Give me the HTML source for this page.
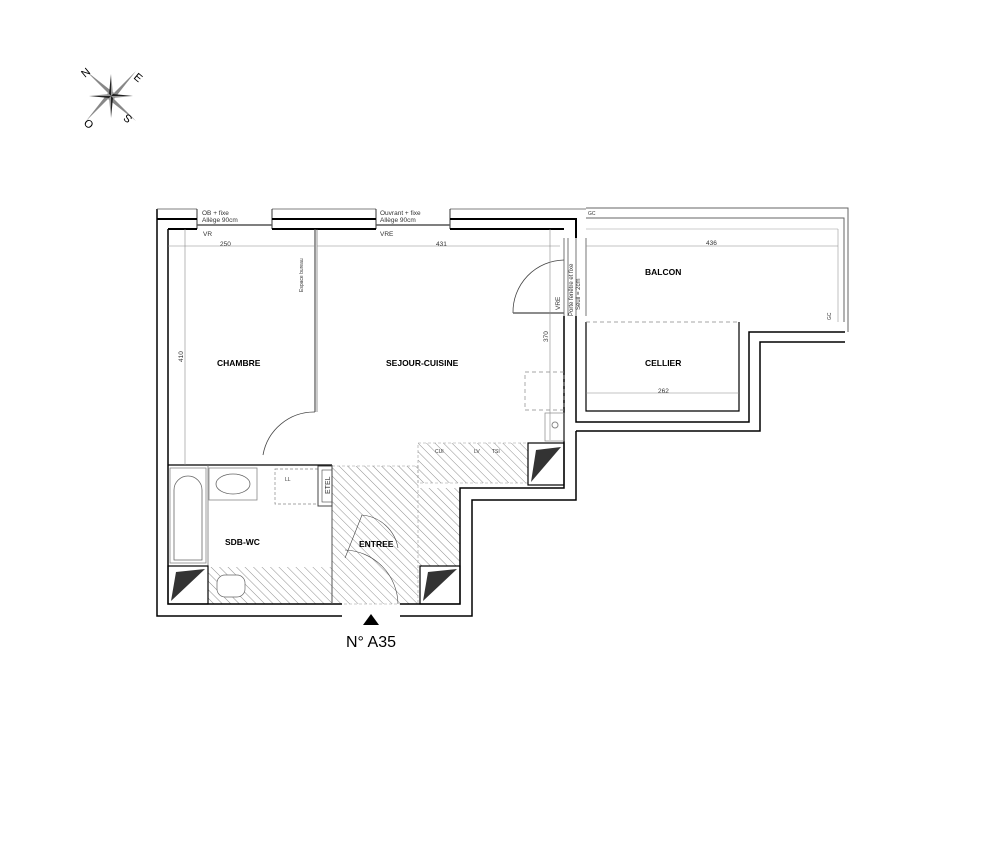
<!DOCTYPE html>
<html><head><meta charset="utf-8"><style>
html,body{margin:0;padding:0;background:#fff}
svg{display:block}
text{font-family:"Liberation Sans",Arial,sans-serif}
</style></head><body>
<svg width="1000" height="857" viewBox="0 0 1000 857" xmlns="http://www.w3.org/2000/svg">
<defs>
<pattern id="h" width="6" height="6" patternUnits="userSpaceOnUse" patternTransform="rotate(-45)">
<line x1="0" y1="0" x2="0" y2="6" stroke="#444" stroke-width="0.6"/>
</pattern>
</defs>
<rect width="1000" height="857" fill="#fff"/>
<!-- compass -->
<g transform="translate(111,96)">
<g id="pt">
<polygon points="0,0 -3,-3 -25,-25" fill="#111"/>
<polygon points="0,0 3,-3 -25,-25" fill="#888"/>
</g>
<use href="#pt" transform="rotate(90)"/>
<use href="#pt" transform="rotate(180)"/>
<use href="#pt" transform="rotate(270)"/>
<g id="ax">
<polygon points="0,0 -2,-2 0,-22" fill="#222"/>
<polygon points="0,0 2,-2 0,-22" fill="#999"/>
</g>
<use href="#ax" transform="rotate(90)"/>
<use href="#ax" transform="rotate(180)"/>
<use href="#ax" transform="rotate(270)"/>
<text x="-26" y="-18" font-size="11" font-family="Liberation Serif" transform="rotate(-40 -26 -18)">N</text>
<text x="22" y="-18" font-size="11" font-family="Liberation Serif" transform="rotate(40 22 -18)">E</text>
<text x="-28" y="28" font-size="11" font-family="Liberation Serif" transform="rotate(40 -28 28)">O</text>
<text x="22" y="22" font-size="11" font-family="Liberation Serif" transform="rotate(-140 22 22)">S</text>
</g>

<!-- hatched areas -->
<rect x="332" y="466" width="86" height="138" fill="url(#h)"/>
<rect x="418" y="443" width="110" height="40" fill="url(#h)"/>
<rect x="418" y="488" width="42" height="78" fill="url(#h)"/>
<rect x="208" y="567" width="124" height="37" fill="url(#h)"/>
<rect x="332" y="466" width="86" height="138" fill="none" stroke="#999" stroke-width="0.6" stroke-dasharray="3,2"/>
<rect x="418" y="443" width="110" height="40" fill="none" stroke="#999" stroke-width="0.6" stroke-dasharray="3,2"/>

<g fill="none" stroke="#000">
<path d="M157,209 V616 H342" stroke-width="1.5"/>
<path d="M168,229 V604 H342" stroke-width="1.5"/>
<path d="M157,219 H197 M272,219 H376 M450,219 H576 V238" stroke-width="2"/>
<path d="M168,229 H197 M272,229 H376 M450,229 H564" stroke-width="2"/>
<path d="M157,209 H197 M272,209 H376 M450,209 H586" stroke-width="0.8" stroke="#555"/>
<line x1="197" y1="209" x2="197" y2="229" stroke-width="0.8"/>
<line x1="272" y1="209" x2="272" y2="229" stroke-width="0.8"/>
<line x1="376" y1="209" x2="376" y2="229" stroke-width="0.8"/>
<line x1="450" y1="209" x2="450" y2="229" stroke-width="0.8"/>
<line x1="197" y1="225" x2="272" y2="225" stroke-width="1.5" stroke="#555"/>
<line x1="376" y1="225" x2="450" y2="225" stroke-width="1.5" stroke="#555"/>
<path d="M564,316 V488 H460 V604 H400" stroke-width="1.5"/>
<path d="M576,316 V422 H749 V332 H845" stroke-width="1.5"/>
<path d="M576,431 V500 H472 V616 H400" stroke-width="1.5"/>
<path d="M576,431 H760 V342 H845" stroke-width="1.5"/>
<path d="M586,322 V411 H739 V322" stroke-width="1.2"/>
<line x1="586" y1="322" x2="739" y2="322" stroke="#888" stroke-dasharray="4,3" stroke-width="0.8"/>
<path d="M586,218 H844 V322" stroke="#666" stroke-width="1"/>
<path d="M586,208 H848 V332" stroke="#666" stroke-width="1"/>
<line x1="586" y1="229" x2="838" y2="229" stroke="#999" stroke-width="0.6"/>
<line x1="838" y1="229" x2="838" y2="322" stroke="#999" stroke-width="0.6"/>
<path d="M564,238 V316 M568,238 V316 M576,238 V316 M586,238 V316" stroke="#555" stroke-width="0.8"/>
<line x1="168" y1="465" x2="332" y2="465" stroke-width="1.2"/>
<line x1="315" y1="229" x2="315" y2="412" stroke="#555" stroke-width="1.2"/>
<line x1="317" y1="229" x2="317" y2="412" stroke="#555" stroke-width="0.6"/>
<line x1="332" y1="465" x2="332" y2="604" stroke="#555" stroke-width="1"/>
<line x1="208" y1="465" x2="208" y2="604" stroke="#777" stroke-width="0.8"/>
<path d="M263,455 A52,52 0 0 1 315,412" stroke="#444" stroke-width="0.8"/>
<path d="M513,313 A52,52 0 0 1 564,260" stroke="#444" stroke-width="0.8"/>
<line x1="513" y1="313" x2="564" y2="313" stroke="#666" stroke-width="1.5"/>
<path d="M345,558 L362,515 A40,40 0 0 1 398,548" stroke="#444" stroke-width="0.6"/>
<path d="M345,550 A55,55 0 0 1 398,604" stroke="#444" stroke-width="0.6"/>
<rect x="170" y="468" width="36" height="95" stroke="#888" stroke-width="0.8"/>
<path d="M174,560 V490 A14,14 0 0 1 202,490 V560 Z" stroke="#666" stroke-width="0.8"/>
<rect x="209" y="468" width="48" height="32" stroke="#888" stroke-width="0.8"/>
<ellipse cx="233" cy="484" rx="17" ry="10" stroke="#666" stroke-width="0.8"/>
<rect x="275" y="469" width="43" height="35" stroke="#888" stroke-width="0.7" stroke-dasharray="3,2"/>
<rect x="318" y="466" width="14" height="40" stroke="#444" stroke-width="1"/>
<rect x="322" y="470" width="10" height="32" stroke="#444" stroke-width="0.6"/>
<rect x="217" y="575" width="28" height="22" rx="8" stroke="#666" stroke-width="0.7" fill="#fff"/>
<rect x="168" y="566" width="40" height="38" stroke-width="1.2"/>
<rect x="420" y="566" width="40" height="38" stroke-width="1.2"/>
<rect x="528" y="443" width="36" height="42" stroke-width="1.2"/>
<rect x="525" y="372" width="39" height="38" stroke="#888" stroke-width="0.7" stroke-dasharray="4,3"/>
<rect x="545" y="413" width="19" height="28" stroke="#888" stroke-width="0.7"/>
<circle cx="555" cy="425" r="3" stroke="#888"/>
<g stroke="#888" stroke-width="0.6">
<line x1="168" y1="246" x2="315" y2="246"/>
<line x1="317" y1="246" x2="560" y2="246"/>
<line x1="185" y1="229" x2="185" y2="465"/>
<line x1="550" y1="229" x2="550" y2="440"/>
<line x1="586" y1="246" x2="838" y2="246"/>
<line x1="586" y1="393" x2="739" y2="393"/>
</g>
</g>
<polygon points="171,601 176,572 205,569" fill="#333"/>
<polygon points="423,601 428,572 457,569" fill="#333"/>
<polygon points="531,482 536,450 561,447" fill="#333"/>
<polygon points="371,614 363,625 379,625" fill="#000"/>
<text x="346" y="647" font-size="16">N° A35</text>
<g font-weight="bold" font-size="8.5" fill="#000">
<text x="217" y="366">CHAMBRE</text>
<text x="386" y="366">SEJOUR-CUISINE</text>
<text x="645" y="275">BALCON</text>
<text x="645" y="366">CELLIER</text>
<text x="225" y="545">SDB-WC</text>
<text x="359" y="547">ENTREE</text>
</g>
<g font-size="6.5" fill="#333">
<text x="220" y="246">250</text>
<text x="436" y="246">431</text>
<text x="706" y="245">436</text>
<text x="658" y="393">262</text>
<text x="202" y="215">OB + fixe</text><text x="202" y="222">Allège 90cm</text>
<text x="380" y="215">Ouvrant + fixe</text><text x="380" y="222">Allège 90cm</text>
<text x="203" y="236">VR</text><text x="380" y="236">VRE</text>
<text x="588" y="215" font-size="5">GC</text>
<text x="285" y="481" font-size="5">LL</text>
<text x="435" y="453" font-size="5">CUI</text>
<text x="474" y="453" font-size="5">LV</text>
<text x="492" y="453" font-size="5">TSI</text>
<text transform="translate(183,362) rotate(-90)">410</text>
<text transform="translate(548,342) rotate(-90)">370</text>
<text transform="translate(560,310) rotate(-90)">VRE</text>
<text transform="translate(573,316) rotate(-90)" font-size="6">Porte fenêtre et fixe</text>
<text transform="translate(580,310) rotate(-90)" font-size="6">Seuil = 2cm</text>
<text transform="translate(303,292) rotate(-90)" font-size="5">Espace bureau</text>
<text transform="translate(831,320) rotate(-90)" font-size="5">GC</text>
<text transform="translate(330,494) rotate(-90)" font-size="7">ETEL</text>
</g>
</svg>
</body></html>
